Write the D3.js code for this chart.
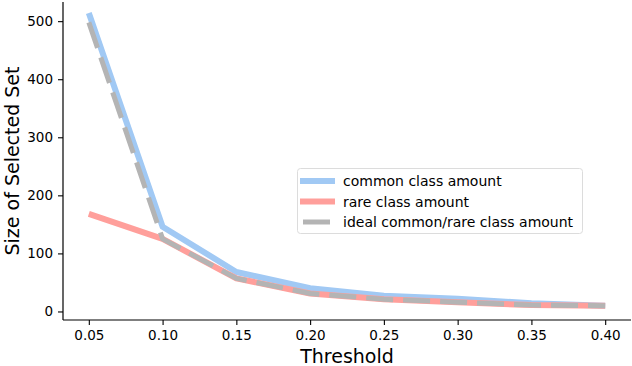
<!DOCTYPE html>
<html>
<head>
<meta charset="utf-8">
<script src="https://cdn.jsdelivr.net/npm/d3@7"></script>
<style>
  body { margin: 0; background: #fff; }
  text { font-family: "DejaVu Sans", sans-serif; fill: #000; }
</style>
</head>
<body>
<div id="chart"></div>
<script>
// data
var thresholds = [0.05, 0.10, 0.15, 0.20, 0.25, 0.30, 0.35, 0.40]
var commonAmount = [514, 146, 68, 40, 27, 22, 14, 10]
var rareAmount = [168, 125, 57, 31, 21, 16, 11, 10]
var idealAmount = [498, 125, 57, 31, 21, 16, 11, 10]
var xTicks = [0.05, 0.10, 0.15, 0.20, 0.25, 0.30, 0.35, 0.40]
var yTicks = [0, 100, 200, 300, 400, 500]

var width = 632
var height = 366
var plotLeft = 63, plotRight = 631, plotTop = 2, plotBottom = 320

var svg = d3.select('#chart')
    .append('svg')
    .attr('width', width)
    .attr('height', height)

var xScale = d3.scaleLinear()
    .domain([0.0325, 0.4175])
    .range([plotLeft, plotRight])

var yScale = d3.scaleLinear()
    .domain([-14.7, 533])
    .range([plotBottom, plotTop])

var xAxis = d3.axisBottom(xScale).tickValues(xTicks).tickFormat(d3.format('.2f')).tickSize(5).tickPadding(5)
var yAxis = d3.axisLeft(yScale).tickValues(yTicks).tickSize(5).tickPadding(5)

var gx = svg.append('g')
    .attr('transform', 'translate(0,' + plotBottom + ')')
    .call(xAxis)
gx.select('.domain').attr('d', 'M' + plotLeft + ',0H' + plotRight).attr('stroke-width', 1.2)

var gy = svg.append('g')
    .attr('transform', 'translate(' + plotLeft + ',0)')
    .call(yAxis)
gy.select('.domain').attr('d', 'M0,' + plotTop + 'V' + plotBottom).attr('stroke-width', 1.2)

svg.selectAll('.tick text').attr('font-size', 13.5).attr('font-family', 'DejaVu Sans')
svg.selectAll('.tick line').attr('stroke-width', 1.1)

svg.append('text')
    .attr('x', (plotLeft + plotRight) / 2)
    .attr('y', 363)
    .attr('text-anchor', 'middle')
    .attr('font-size', 19)
    .text('Threshold')

svg.append('text')
    .attr('transform', 'translate(19,' + ((plotTop + plotBottom) / 2) + ') rotate(-90)')
    .attr('text-anchor', 'middle')
    .attr('font-size', 19)
    .text('Size of Selected Set')

var line = function (values) {
    return d3.line()
        .x((d, i) => xScale(thresholds[i]))
        .y((d) => yScale(d))(values)
}

var series = [
    { name: 'common class amount', values: commonAmount, color: '#a1c9f4', width: 6, dash: null },
    { name: 'rare class amount', values: rareAmount, color: '#ff9f9b', width: 6, dash: null },
    { name: 'ideal common/rare class amount', values: idealAmount, color: '#b4b4b4', width: 5, dash: '27,10' }
]

series.forEach(function (s) {
    svg.append('path')
        .attr('d', line(s.values))
        .attr('fill', 'none')
        .attr('stroke', s.color)
        .attr('stroke-width', s.width)
        .attr('stroke-dasharray', s.dash)
        .attr('stroke-linejoin', 'round')
})

// legend
var legend = svg.append('g')
legend.append('rect')
    .attr('x', 297.5)
    .attr('y', 168.5)
    .attr('width', 285)
    .attr('height', 65)
    .attr('rx', 3)
    .attr('fill', '#fff')
    .attr('fill-opacity', 0.8)
    .attr('stroke', '#dcdcdc')

series.forEach(function (s, i) {
    var y = 181 + i * 20.5
    legend.append('line')
        .attr('x1', s.dash ? 303 : 300)
        .attr('x2', s.dash ? 330 : 335)
        .attr('y1', y)
        .attr('y2', y)
        .attr('stroke', s.color)
        .attr('stroke-width', s.width)
    legend.append('text')
        .attr('x', 343)
        .attr('y', y + 5)
        .attr('font-size', 14)
        .text(s.name)
})
</script>
</body>
</html>
